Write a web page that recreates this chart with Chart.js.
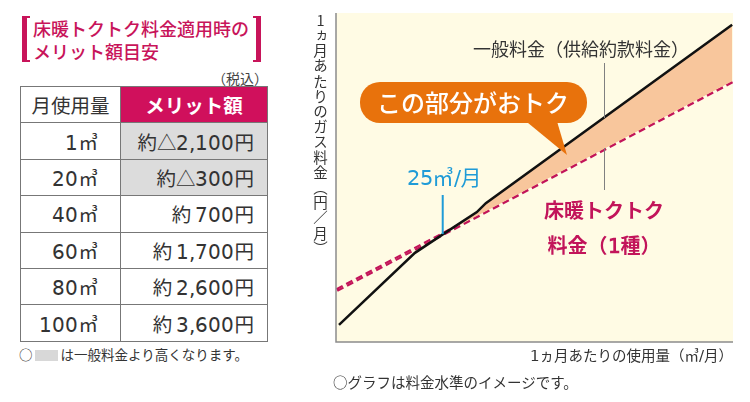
<!DOCTYPE html>
<html>
<head>
  <title>床暖トクトク料金</title>
  <script src="https://cdn.jsdelivr.net/npm/chart.js"></script>
  <style>
    @font-face { font-family: "WideDigits"; src: local("DejaVu Sans"); unicode-range: U+0030-0039, U+002C, U+002F; }
    body { margin: 0; font-family: "WideDigits", "Noto Sans CJK JP", sans-serif; background: #fff; color: #333; }
    #page { position: relative; width: 750px; height: 402px; overflow: hidden; }
    #title { position: absolute; left: 33px; top: 17px; font-size: 18px; line-height: 23px; color: #c8145a; font-weight: 500; }
    .bracket { position: absolute; top: 16px; width: 3px; height: 42px; border: 0 solid #c8145a; }
    #bl { left: 22px; border-left-width: 5px; border-top-width: 2px; border-bottom-width: 2px; }
    #br { left: 253px; border-right-width: 5px; border-top-width: 2px; border-bottom-width: 2px; }
    #tax { position: absolute; right: 482px; top: 68px; font-size: 14px; color: #444; }
    #merit { position: absolute; left: 20px; top: 86px; border-collapse: collapse; font-size: 19.5px; color: #333; }
    #merit td, #merit th { border: 1px solid #777; height: 35.4px; padding: 0; font-weight: normal; }
    #merit th { text-align: center; }
    #merit th.hl { background: #d0105c; color: #fff; font-weight: bold; }
    #merit td.u { text-align: right; padding-right: 22px; width: 77px; }
    #merit td.m { text-align: right; padding-right: 13px; width: 133px; }
    #merit td.gray { background: #dcdcdc; }
    #note1 { position: absolute; left: 19px; top: 344px; font-size: 13.5px; color: #333; }
    #note1 span.box { display: inline-block; width: 23px; height: 11px; background: #d8d8d8; margin: 0 3px 0 2px; vertical-align: -1px; }
    #chartBox { position: absolute; left: 300px; top: 0; width: 450px; height: 402px; }
    #ytitle { position: absolute; left: 312px; top: 13px; writing-mode: vertical-rl; text-orientation: upright; font-size: 14.5px; color: #333; line-height: 16px; letter-spacing: 0.7px; font-family: "Noto Sans CJK JP", sans-serif; }
    #xtitle { position: absolute; right: 17px; top: 344px; font-size: 14.5px; color: #333; }
    #note2 { position: absolute; left: 333px; top: 371px; font-size: 14.5px; color: #333; }
  </style>
</head>
<body>
<div id="page">
  <div class="bracket" id="bl"></div>
  <div class="bracket" id="br"></div>
  <div id="title">床暖トクトク料金適用時の<br>メリット額目安</div>
  <div id="tax">（税込）</div>
  <table id="merit"></table>
  <div id="note1">○<span class="box"></span>は一般料金より高くなります。</div>

  <div id="chartBox"><canvas id="chart"></canvas></div>
  <div id="ytitle">1ヵ月あたりのガス料金（円／月）</div>
  <div id="xtitle">1ヵ月あたりの使用量（㎥/月）</div>
  <div id="note2">○グラフは料金水準のイメージです。</div>
</div>

<script>
  // table values
  const tableHeaders = ["月使用量", "メリット額"];
  const tableUsage = ["1㎥", "20㎥", "40㎥", "60㎥", "80㎥", "100㎥"];
  const tableMerit = ["約△2,100円", "約△300円", "約 700円", "約 1,700円", "約 2,600円", "約 3,600円"];
  const tableHigher = [true, true, false, false, false, false];

  // chart values (image only; x = m3/month, y = relative cost)
  const usageGeneral = [0.7, 18.5, 25.1, 33.0, 35.1, 92.8];
  const costGeneral = [5.2, 27.1, 32.8, 39.5, 42.2, 96.4];
  const usageTokutoku = [0.2, 93];
  const costTokutoku = [15.8, 79.3];
  const breakEven = 25;

  const table = document.getElementById("merit");
  let html = `<tr><th>${tableHeaders[0]}</th><th class="hl">${tableHeaders[1]}</th></tr>`;
  tableUsage.forEach((u, i) => {
    html += `<tr><td class="u">${u}</td><td class="m${tableHigher[i] ? " gray" : ""}">${tableMerit[i]}</td></tr>`;
  });
  table.innerHTML = html;

  const toPoints = (xs, ys) => xs.map((x, i) => ({ x: x, y: ys[i] }));

  const decorations = {
    id: "decorations",
    beforeDraw(chart) {
      const { ctx, chartArea: a } = chart;
      ctx.save();
      ctx.fillStyle = "#fffbe4";
      ctx.fillRect(a.left, a.top, a.right - a.left, a.bottom - a.top);
      ctx.restore();
    },
    afterDatasetsDraw(chart) {
      const { ctx, chartArea: a, scales } = chart;
      const font = "WideDigits, \"Noto Sans CJK JP\", sans-serif";
      ctx.save();

      // axis lines
      ctx.strokeStyle = "#8c8c8c";
      ctx.lineWidth = 1.5;
      ctx.beginPath();
      ctx.moveTo(a.left, a.top);
      ctx.lineTo(a.left, a.bottom);
      ctx.lineTo(a.right, a.bottom);
      ctx.stroke();

      // leader lines for labels
      ctx.strokeStyle = "#808080";
      ctx.lineWidth = 1;
      ctx.beginPath();
      ctx.moveTo(304.5, 63); ctx.lineTo(304.5, 118);
      ctx.moveTo(304.5, 148); ctx.lineTo(304.5, 190);
      ctx.stroke();

      // break-even marker
      const bx = scales.x.getPixelForValue(breakEven);
      const by = scales.y.getPixelForValue(costGeneral[2]);
      ctx.strokeStyle = "#1f9bd7";
      ctx.lineWidth = 2;
      ctx.beginPath();
      ctx.moveTo(bx, 195); ctx.lineTo(bx, by);
      ctx.stroke();

      ctx.textBaseline = "middle";
      ctx.fillStyle = "#1f9bd7";
      ctx.textAlign = "center";
      ctx.font = "21px " + font;
      ctx.fillText("25㎥/月", 144, 177);

      ctx.fillStyle = "#333";
      ctx.textAlign = "left";
      ctx.font = "18px " + font;
      ctx.fillText("一般料金（供給約款料金）", 173, 49);

      ctx.fillStyle = "#c2145a";
      ctx.textAlign = "center";
      ctx.font = "bold 20px " + font;
      ctx.fillText("床暖トクトク", 304, 210);
      ctx.fillText("料金（1種）", 304, 245);

      // callout
      ctx.fillStyle = "#e8720c";
      ctx.beginPath();
      ctx.roundRect(60, 82, 227, 41, 20);
      ctx.fill();
      ctx.beginPath();
      ctx.moveTo(222, 118); ctx.lineTo(256, 118); ctx.lineTo(267, 155);
      ctx.closePath();
      ctx.fill();
      ctx.fillStyle = "#fff";
      ctx.font = "500 24px " + font;
      ctx.fillText("この部分がおトク", 173, 103);

      ctx.restore();
    }
  };

  document.fonts.load("20px WideDigits").then(() => {
    new Chart(document.getElementById("chart"), {
      type: "line",
      data: {
        datasets: [
          {
            label: "一般料金（供給約款料金）",
            data: toPoints(usageGeneral, costGeneral),
            borderColor: "#111",
            borderWidth: 2.5,
            pointRadius: 0,
            tension: 0,
            fill: { target: 1, above: "#f8c69c", below: "rgba(0,0,0,0)" }
          },
          {
            label: "床暖トクトク料金（1種）",
            data: toPoints(usageTokutoku, costTokutoku),
            borderColor: "#c2145a",
            borderWidth: 4,
            borderDash: [7, 4],
            pointRadius: 0,
            tension: 0,
            fill: false
          }
        ]
      },
      options: {
        responsive: true,
        maintainAspectRatio: false,
        animation: false,
        layout: { padding: { left: 36, right: 17, top: 13, bottom: 60 } },
        plugins: { legend: { display: false }, tooltip: { enabled: false } },
        scales: {
          x: { type: "linear", min: 0, max: 93, display: false },
          y: { min: 0, max: 100, display: false }
        }
      },
      plugins: [decorations]
    });
  });
</script>
</body>
</html>
